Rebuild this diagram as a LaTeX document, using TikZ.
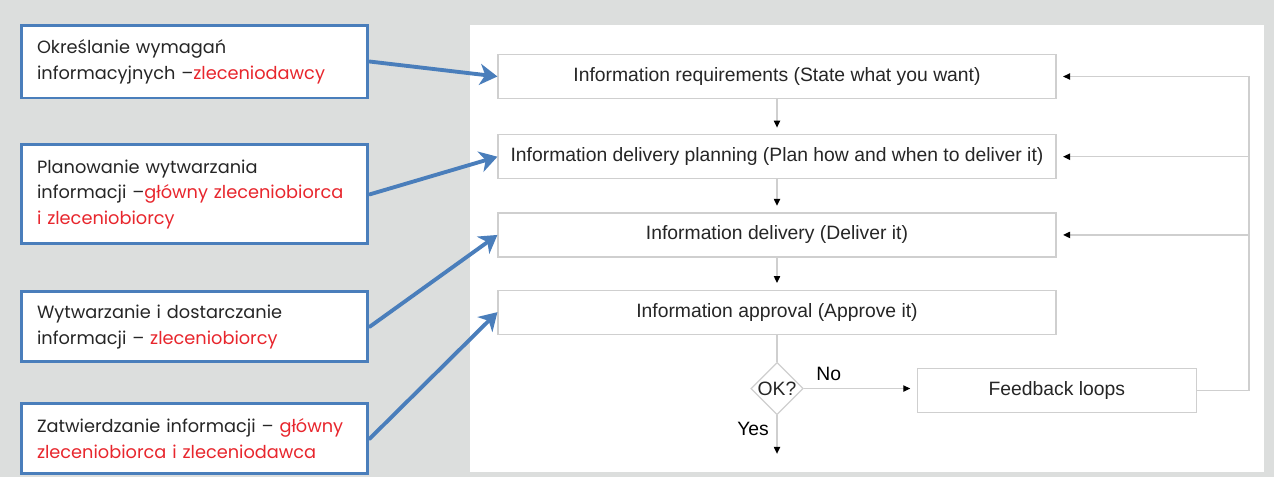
\documentclass[tikz,border=0pt]{standalone}
\usepackage{fontspec}
\setmainfont{Liberation Sans}
\newfontfamily\gothic{Poppins}
\usetikzlibrary{positioning,shapes.geometric,arrows.meta,calc}
\definecolor{boxblue}{HTML}{4A7EBB}
\definecolor{rolered}{HTML}{E8262D}
\definecolor{flowgray}{HTML}{CFCFCF}
\definecolor{slidegray}{HTML}{DCDEDD}

\begin{document}
\begin{tikzpicture}[x=0.02cm,y=-0.02cm,
   rolebox/.style={draw=boxblue, line width=1.7pt, fill=white, text width=6.3cm,
     align=left, inner xsep=0.32cm, text=black!85,
     font=\gothic\fontsize{10.1}{14.6}\selectfont},
   flowbox/.style={draw=flowgray, line width=0.7pt, fill=white, minimum width=11.16cm,
     minimum height=0.88cm, text=black!85, font=\fontsize{11}{13}\selectfont},
   flowline/.style={draw=flowgray, line width=0.7pt},
   tip/.style={-{Triangle[length=4pt,width=3.6pt,black]}, shorten >=0.13cm},
   rolearrow/.style={draw=boxblue, line width=2.2pt, line cap=round,
     -{Stealth[length=10pt,width=12pt,inset=3pt]}}
   ]
   % slide background and white panel
   \useasboundingbox (0,0) rectangle (1274,477);
   \fill[slidegray] (0,0) rectangle (1274,477);
   \fill[white] (470,25) rectangle (1264,472);

   % flowchart
   \node[flowbox] (req) at (777,76.5) {Information requirements (State what you want)};
   \node[flowbox] (plan) [below=0.7cm of req] {Information delivery planning (Plan how and when to deliver it)};
   \node[flowbox] (deliver) [below=0.66cm of plan] {Information delivery (Deliver it)};
   \node[flowbox] (approve) [below=0.64cm of deliver] {Information approval (Approve it)};
   \node[diamond, draw=flowgray, line width=0.7pt, fill=white, inner sep=0pt,
     minimum width=0.96cm, minimum height=1.04cm, text=black!85,
     font=\fontsize{11}{13}\selectfont] (ok) [below=0.54cm of approve] {OK?};
   \node[flowbox, minimum width=5.58cm] (feedback) [right=2.26cm of ok, yshift=-0.04cm] {Feedback loops};
   \coordinate[below=0.9cm of ok] (done);

   \draw[flowline, tip] (req) -- (plan);
   \draw[flowline, tip] (plan) -- (deliver);
   \draw[flowline, tip] (deliver) -- (approve);
   \draw[flowline] (approve) -- (ok);
   \draw[flowline, tip] (ok) -- node[pos=0.22, above=1pt, font=\fontsize{11}{13}\selectfont]{No} (ok -| feedback.west);
   \draw[flowline, tip] (ok) -- node[pos=0.3, left=1pt, font=\fontsize{11}{13}\selectfont]{Yes} (done);
   \draw[flowline] (feedback.east) -- ++(52,0) coordinate (corner);
   \draw[flowline, tip] (corner) |- (req.east);
   \draw[flowline, tip] (corner) |- (plan.east);
   \draw[flowline, tip] (corner) |- (deliver.east);

   % roles
   \node[rolebox, minimum height=1.46cm] (client) at (194.5,61.5)
     {Określanie wymagań\\informacyjnych –\textcolor{rolered}{zleceniodawcy}};
   \node[rolebox, minimum height=1.98cm] (planners) [below=0.88cm of client]
     {Planowanie wytwarzania\\informacji –\textcolor{rolered}{główny zleceniobiorca\\i zleceniobiorcy}};
   \node[rolebox, minimum height=1.4cm] (makers) [below=0.9cm of planners]
     {Wytwarzanie i dostarczanie\\informacji – \textcolor{rolered}{zleceniobiorcy}};
   \node[rolebox, minimum height=1.4cm] (approvers) [below=0.78cm of makers]
     {Zatwierdzanie informacji – \textcolor{rolered}{główny\\zleceniobiorca i zleceniodawca}};

   \draw[rolearrow] (client.east) -- (req.west);
   \draw[rolearrow] (planners.east) -- (plan.west);
   \draw[rolearrow] (makers.east) -- (deliver.west);
   \draw[rolearrow] (approvers.east) -- (approve.west);
\end{tikzpicture}
\end{document}
